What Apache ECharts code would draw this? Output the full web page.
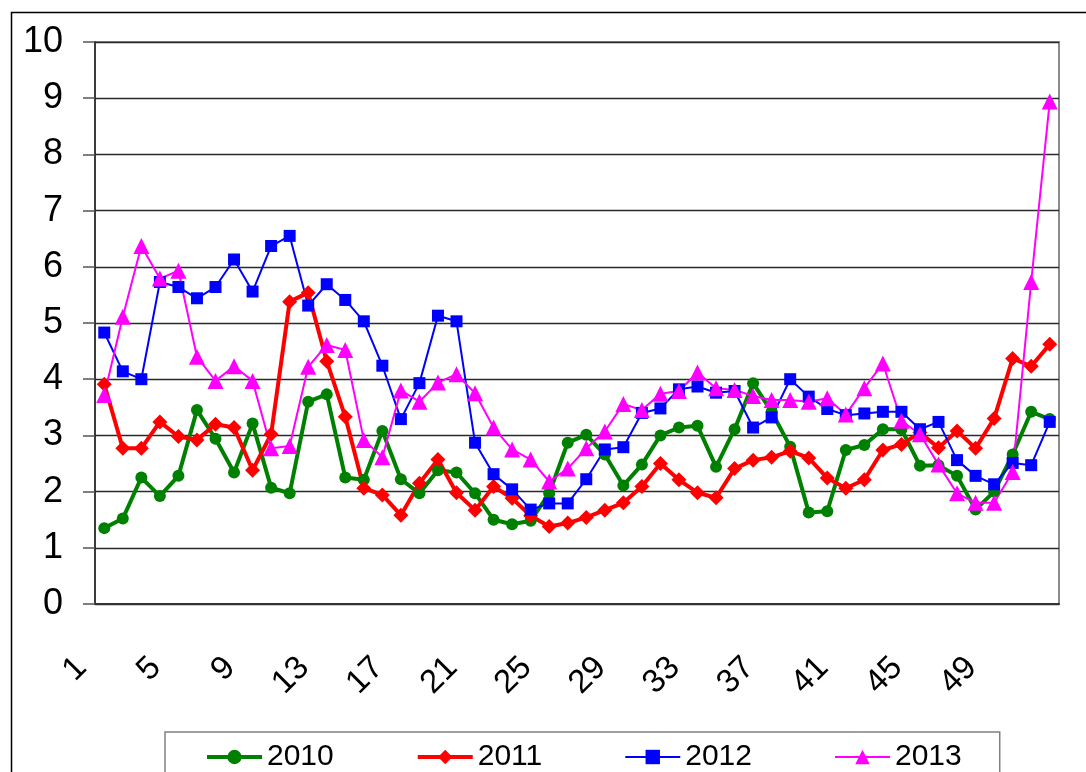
<!DOCTYPE html>
<html>
<head>
<meta charset="utf-8">
<script src="https://cdn.jsdelivr.net/npm/echarts@6/dist/echarts.min.js"></script>
<style>
  html, body { margin: 0; padding: 0; background: #fff; }
  #chart { width: 1086px; height: 772px; }
</style>
</head>
<body>
<div id="chart"></div>
<script>
// week numbers 1..52
const weeks = ['1','2','3','4','5','6','7','8','9','10','11','12','13','14','15','16','17','18','19','20',
  '21','22','23','24','25','26','27','28','29','30','31','32','33','34','35','36','37','38','39','40',
  '41','42','43','44','45','46','47','48','49','50','51','52']

const y2010 = [1.35, 1.52, 2.25, 1.92, 2.28, 3.45, 2.94, 2.34, 3.21, 2.07, 1.97, 3.60, 3.73,
  2.25, 2.21, 3.08, 2.22, 1.97, 2.38, 2.34, 1.97, 1.50, 1.42, 1.48, 1.97, 2.87,
  3.01, 2.66, 2.11, 2.48, 3.00, 3.14, 3.17, 2.44, 3.11, 3.93, 3.42, 2.80, 1.63,
  1.65, 2.74, 2.83, 3.11, 3.11, 2.46, 2.47, 2.28, 1.68, 2.00, 2.66, 3.42, 3.29]

const y2011 = [3.91, 2.77, 2.77, 3.24, 2.98, 2.92, 3.20, 3.14, 2.38, 3.02, 5.38, 5.54, 4.32,
  3.33, 2.06, 1.94, 1.58, 2.15, 2.57, 1.98, 1.67, 2.09, 1.88, 1.57, 1.38, 1.44,
  1.54, 1.67, 1.80, 2.09, 2.50, 2.21, 1.98, 1.89, 2.41, 2.56, 2.61, 2.72, 2.60,
  2.24, 2.06, 2.21, 2.74, 2.84, 3.05, 2.78, 3.08, 2.77, 3.30, 4.37, 4.23, 4.62]

const y2012 = [4.83, 4.14, 4.00, 5.73, 5.64, 5.44, 5.64, 6.13, 5.56, 6.37, 6.55, 5.31, 5.69,
  5.41, 5.03, 4.24, 3.29, 3.93, 5.13, 5.03, 2.87, 2.31, 2.04, 1.68, 1.79, 1.79,
  2.22, 2.75, 2.79, 3.40, 3.48, 3.82, 3.87, 3.76, 3.79, 3.14, 3.32, 4.00, 3.69,
  3.47, 3.36, 3.39, 3.42, 3.42, 3.11, 3.24, 2.56, 2.28, 2.13, 2.51, 2.47, 3.24]

const y2013 = [3.72, 5.11, 6.37, 5.79, 5.93, 4.40, 3.97, 4.23, 3.97, 2.77, 2.81, 4.22, 4.61,
  4.52, 2.92, 2.61, 3.80, 3.60, 3.94, 4.09, 3.75, 3.14, 2.75, 2.57, 2.18, 2.41,
  2.77, 3.07, 3.56, 3.45, 3.74, 3.79, 4.12, 3.84, 3.81, 3.70, 3.63, 3.63, 3.60,
  3.66, 3.37, 3.84, 4.28, 3.26, 3.02, 2.48, 1.97, 1.80, 1.80, 2.35, 5.73, 8.94]

const FONT = "'Liberation Sans', Arial, sans-serif"

function lineSeries(name, data, color, width, symbol, size) {
  return {
    name, type: 'line', data,
    symbol, symbolSize: size, showAllSymbol: true,
    lineStyle: { color, width },
    itemStyle: { color },
    emphasis: { disabled: true },
    animation: false
  }
}

const chart = echarts.init(document.getElementById('chart'))
chart.setOption({
  animation: false,
  textStyle: { fontFamily: FONT, color: '#000' },
  graphic: [{
    // outer chart frame, runs off the right and bottom edge like the original
    type: 'rect', left: 9, top: 10, z: -1,
    shape: { width: 1200, height: 900 },
    style: { fill: 'none', stroke: '#000', lineWidth: 1.5 }
  }],
  grid: {
    left: 95, right: 27, top: 42, bottom: 168,
    show: true, borderColor: '#8a8a8a', borderWidth: 2, backgroundColor: 'transparent'
  },
  legend: {
    left: 165, top: 732,
    padding: [10, 38, 30, 40],
    borderColor: '#808080', borderWidth: 1.5,
    itemWidth: 55, itemHeight: 18, itemGap: 82,
    textStyle: { fontSize: 30, fontFamily: FONT, color: '#000' },
    data: [
      { name: '2010', lineStyle: { width: 4 } },
      { name: '2011', lineStyle: { width: 4 } },
      { name: '2012', lineStyle: { width: 2 } },
      { name: '2013', lineStyle: { width: 2 } }
    ]
  },
  xAxis: {
    type: 'category', data: weeks, boundaryGap: true,
    axisLine: { lineStyle: { color: '#333', width: 2 } },
    axisTick: { interval: 0, length: 12, lineStyle: { color: '#555', width: 1.5 } },
    axisLabel: {
      interval: 3, rotate: 45, fontSize: 33, margin: 36,
      padding: [0, 32, 0, 0], color: '#000', fontFamily: FONT
    },
    splitLine: { show: false }
  },
  yAxis: {
    type: 'value', min: 0, max: 10, interval: 1,
    axisLine: { show: true, lineStyle: { color: '#222', width: 1.5 } },
    axisTick: { show: true, length: 12, lineStyle: { color: '#555', width: 1.5 } },
    axisLabel: { fontSize: 36, margin: 32, color: '#000', fontFamily: FONT },
    splitLine: { lineStyle: { color: '#2a2a2a', width: 1.3 } }
  },
  series: [
    lineSeries('2010', y2010, '#008000', 4, 'circle', 12),
    lineSeries('2011', y2011, '#FF0000', 4, 'diamond', 15),
    lineSeries('2012', y2012, '#0000FF', 2, 'rect', 12),
    lineSeries('2013', y2013, '#FF00FF', 2, 'triangle', 16)
  ]
})
</script>
</body>
</html>
